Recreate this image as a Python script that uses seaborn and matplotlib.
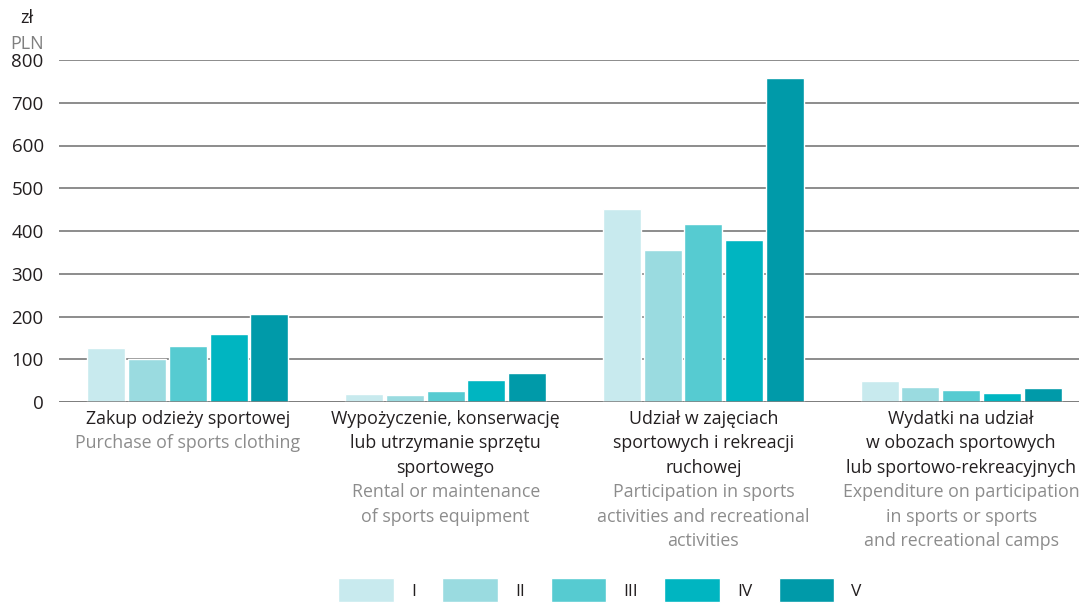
import pandas as pd
import matplotlib.pyplot as plt
import matplotlib.transforms as mtransforms
import seaborn as sns

# Data
categories = ["cat1", "cat2", "cat3", "cat4"]
quintiles = ["I", "II", "III", "IV", "V"]
values_I = [126, 19, 451, 49]
values_II = [100, 17, 355, 35]
values_III = [131, 26, 416, 28]
values_IV = [159, 52, 379, 21]
values_V = [207, 68, 758, 33]

labels_pl = [
    ["Zakup odzieży sportowej"],
    ["Wypożyczenie, konserwację", "lub utrzymanie sprzętu", "sportowego"],
    ["Udział w zajęciach", "sportowych i rekreacji", "ruchowej"],
    ["Wydatki na udział", "w obozach sportowych", "lub sportowo-rekreacyjnych"],
]
labels_en = [
    ["Purchase of sports clothing"],
    ["Rental or maintenance", "of sports equipment"],
    ["Participation in sports", "activities and recreational", "activities"],
    ["Expenditure on participation", "in sports or sports", "and recreational camps"],
]
colors = ["#c8eaee", "#9adbe0", "#56cbd1", "#00b5c1", "#009aa9"]

rows = []
for q, vals in zip(quintiles, [values_I, values_II, values_III, values_IV, values_V]):
    for c, v in zip(categories, vals):
        rows.append({"category": c, "quintile": q, "value": v})
df = pd.DataFrame(rows)

sns.set_style("white")
plt.rcParams["font.family"] = ["Open Sans", "DejaVu Sans"]

fig = plt.figure(figsize=(10.79, 6.03), dpi=100)
ax = fig.add_axes([59 / 1079, 1 - 402 / 603, 1031 / 1079, 342 / 603])

sns.barplot(data=df, x="category", y="value", hue="quintile", palette=colors,
            width=0.79, gap=0.07, saturation=1, ax=ax)

ax.set_ylim(0, 800)
ax.set_xlim(-0.5, 3.5)
ax.set_yticks(range(0, 801, 100))
ax.yaxis.grid(True, color="#8c8c8c", linewidth=1.4)
ax.set_axisbelow(True)
for s in ax.spines.values():
    s.set_visible(False)
ax.axhline(0, color="#7a7a7a", linewidth=1.8, zorder=3)
ax.tick_params(axis="y", length=0, labelsize=13.5, labelcolor="#231f20", pad=11)
ax.set_xticks([])
ax.set_xlabel("")
ax.set_ylabel("")

fig.text(27 / 1079, 1 - 18 / 603, "zł", fontsize=13, color="#231f20", ha="center", va="center")
fig.text(27 / 1079, 1 - 44 / 603, "PLN", fontsize=13, color="#7f7f7f", ha="center", va="center")

# category labels, one line at a time
trans = mtransforms.blended_transform_factory(ax.transData, fig.transFigure)
pitch = 24.4
for i in range(4):
    lines = [(t, "#231f20") for t in labels_pl[i]] + [(t, "#8c8c8c") for t in labels_en[i]]
    for k, (t, col) in enumerate(lines):
        ax.text(i, 1 - (419 + k * pitch) / 603, t, transform=trans, ha="center", va="center",
                fontsize=12.8, color=col)

handles, labs = ax.get_legend_handles_labels()
ax.legend_.remove()
fig.legend(handles, labs, loc="center", bbox_to_anchor=(600 / 1079, 1 - 590 / 603), ncol=5,
           frameon=False, fontsize=12.5, handlelength=3.2, handleheight=1.7,
           handletextpad=1.0, columnspacing=1.5, labelcolor="#231f20")

fig.savefig("out.png", dpi=100)
